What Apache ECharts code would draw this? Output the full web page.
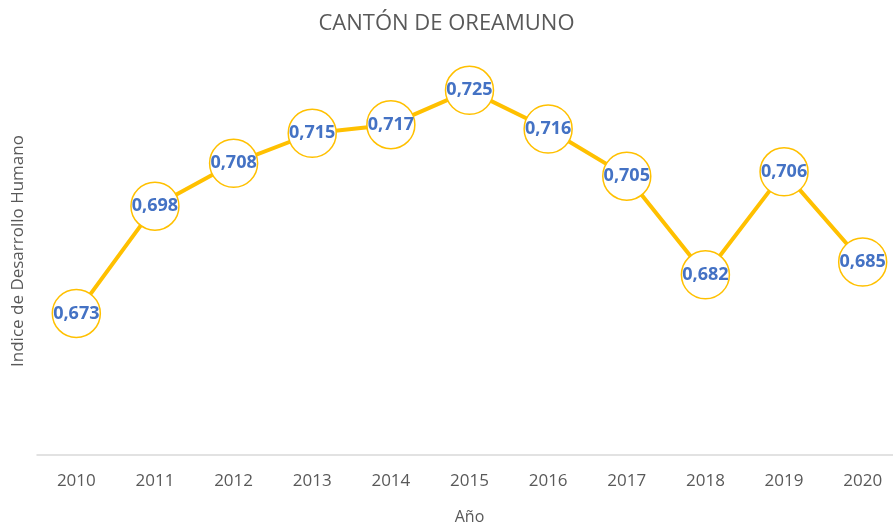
<!DOCTYPE html>
<html>
<head>
<meta charset="utf-8">
<script src="https://cdn.jsdelivr.net/npm/echarts@6/dist/echarts.min.js"></script>
<style>
  html, body { margin: 0; padding: 0; background: #fff; }
  #main { width: 893px; height: 525px; }
</style>
</head>
<body>
<div id="main"></div>
<script>
  // años y valores del IDH
  var years = ['2010', '2011', '2012', '2013', '2014', '2015', '2016', '2017', '2018', '2019', '2020'];
  var idh = [0.673, 0.698, 0.708, 0.715, 0.717, 0.725, 0.716, 0.705, 0.682, 0.706, 0.685];

  var chart = echarts.init(document.getElementById('main'));
  var font = '"Open Sans", "Noto Sans", sans-serif';

  chart.setOption({
    animation: false,
    title: {
      text: 'CANTÓN DE OREAMUNO',
      left: 'center',
      top: 8,
      textStyle: { fontFamily: font, fontSize: 22, fontWeight: 'normal', color: '#595959' }
    },
    grid: { left: 37, right: -9, top: 26, bottom: 70, outerBoundsMode: 'none' },
    xAxis: {
      type: 'category',
      data: years,
      boundaryGap: true,
      name: 'Año',
      nameLocation: 'middle',
      nameGap: 54,
      nameTextStyle: { fontFamily: font, fontSize: 16, color: '#595959' },
      axisLine: { lineStyle: { color: '#d9d9d9', width: 1.5 } },
      axisTick: { show: false },
      axisLabel: { fontFamily: font, fontSize: 17, color: '#595959', margin: 18 }
    },
    yAxis: {
      type: 'value',
      min: 0.64,
      max: 0.74,
      show: false
    },
    graphic: [{
      type: 'text',
      x: 18,
      y: 251,
      rotation: Math.PI / 2,
      style: {
        text: 'Indice de Desarrollo Humano',
        fontFamily: font,
        fontSize: 17,
        fill: '#595959',
        align: 'center',
        verticalAlign: 'middle'
      }
    }],
    series: [{
      type: 'line',
      data: idh,
      symbol: 'circle',
      symbolSize: 48,
      lineStyle: { color: '#FFC000', width: 4 },
      itemStyle: { color: '#ffffff', borderColor: '#FFC000', borderWidth: 1.5 },
      label: {
        show: true,
        position: 'inside',
        fontFamily: font,
        fontSize: 18,
        fontWeight: 'bold',
        color: '#4472C4',
        formatter: function (p) { return p.value.toFixed(3).replace('.', ','); }
      }
    }]
  });
</script>
</body>
</html>
